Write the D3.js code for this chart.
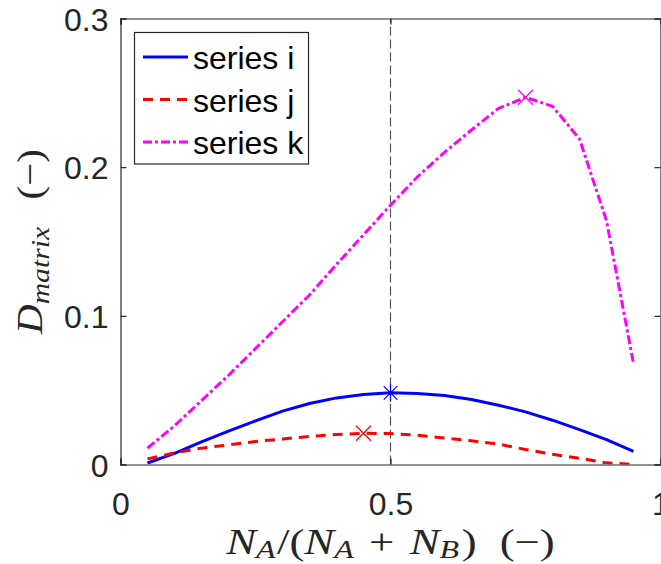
<!DOCTYPE html>
<html><head><meta charset="utf-8">
<script src="https://cdn.jsdelivr.net/npm/d3@7"></script>
<style>
html,body{margin:0;padding:0;background:#fff;}
svg{display:block;}
</style>
</head><body>
<svg id="chart" width="661" height="564"></svg>
<script>
const xValues = [0.05,0.10,0.15,0.20,0.25,0.30,0.35,0.40,0.45,0.50,0.55,0.60,0.65,0.70,0.75,0.80,0.85,0.90,0.95];
const seriesI = [0.001,0.0075,0.0152,0.0224,0.0293,0.0359,0.0410,0.0448,0.0471,0.0482,0.0477,0.0464,0.0437,0.0399,0.0354,0.0298,0.0235,0.0168,0.0089];
const seriesJ = [0.0038,0.0078,0.0110,0.0132,0.0155,0.0172,0.0188,0.0202,0.0210,0.0208,0.0197,0.0179,0.0159,0.0137,0.0101,0.0069,0.0042,0.0011,0.0001];
const seriesK = [0.011,0.026,0.043,0.060,0.078,0.096,0.114,0.1345,0.1545,0.1744,0.1935,0.2100,0.2250,0.2395,0.2470,0.2410,0.2190,0.1640,0.0680];
const seriesNames = ["series i","series j","series k"];
const peakI = {x:0.50, y:0.0482};
const peakJ = {x:0.45, y:0.0210};
const peakK = {x:0.75, y:0.2470};
const refLineX = 0.5;
const xTicks = [0,0.5,1];
const yTicks = [0,0.1,0.2,0.3];
const xTickLabels = ["0","0.5","1"];
const yTickLabels = ["0","0.1","0.2","0.3"];

const svg = d3.select("#chart");
const L = 120.5, R = 660.5, T = 18.5, B = 464.5;
const x = d3.scaleLinear().domain([0,1]).range([L,R]);
const y = d3.scaleLinear().domain([0,0.3]).range([B,T]);
const axisColor = "#262626";
const tickFont = "'Liberation Sans', Arial, Helvetica, sans-serif";
const mathFont = "'Liberation Serif', 'Times New Roman', serif";

// data lines
svg.append("defs").append("clipPath").attr("id","clip")
  .append("rect").attr("x",L).attr("y",T).attr("width",R-L).attr("height",B-T);
const plot = svg.append("g").attr("clip-path","url(#clip)");

plot.append("line").attr("x1",x(refLineX)).attr("x2",x(refLineX)).attr("y1",y(0)).attr("y2",y(0.3))
  .attr("stroke","#555").attr("stroke-width",1.2).attr("stroke-dasharray","9,4");

const line = d3.line().x(d=>x(d[0])).y(d=>y(d[1]));
const series = [
  {vals:seriesI, color:"#0000ff", dash:null},
  {vals:seriesJ, color:"#ff0000", dash:"10,7"},
  {vals:seriesK, color:"#ff00ff", dash:"9,3,3,3"}
];
series.forEach(s=>{
  plot.append("path").datum(xValues.map((v,i)=>[v,s.vals[i]]))
    .attr("d",line).attr("fill","none").attr("stroke",s.color)
    .attr("stroke-width",3).attr("stroke-dasharray",s.dash);
});

function xMarker(g, cx, cy, r, color){
  g.append("path").attr("d",`M${cx-r},${cy-r}L${cx+r},${cy+r}M${cx-r},${cy+r}L${cx+r},${cy-r}`)
   .attr("stroke",color).attr("stroke-width",1.2).attr("fill","none");
}
function starMarker(g, cx, cy, r, color){
  const d = r*0.75;
  g.append("path").attr("d",`M${cx-d},${cy-d}L${cx+d},${cy+d}M${cx-d},${cy+d}L${cx+d},${cy-d}M${cx},${cy-r}L${cx},${cy+r}M${cx-r},${cy}L${cx+r},${cy}`)
   .attr("stroke",color).attr("stroke-width",1.2).attr("fill","none");
}
starMarker(svg, x(peakI.x), y(peakI.y), 9, "#0000ff");
xMarker(svg, x(peakJ.x), y(peakJ.y), 7.5, "#ff0000");
xMarker(svg, x(peakK.x), y(peakK.y), 7.5, "#ff00ff");

// axes
const ax = svg.append("g").attr("font-family",tickFont);
const xAxis = d3.axisBottom(x).tickValues(xTicks).tickFormat((d,i)=>xTickLabels[i]).tickSize(-6).tickPadding(28);
const yAxis = d3.axisLeft(y).tickValues(yTicks).tickFormat((d,i)=>yTickLabels[i]).tickSize(-6).tickPadding(12);
const gx = ax.append("g").attr("transform",`translate(0,${B})`).call(xAxis);
const gy = ax.append("g").attr("transform",`translate(${L},0)`).call(yAxis);
const gx2 = ax.append("g").attr("transform",`translate(0,${T})`).call(d3.axisTop(x).tickValues(xTicks).tickSize(-6).tickFormat(""));
const gy2 = ax.append("g").attr("transform",`translate(${R},0)`).call(d3.axisRight(y).tickValues(yTicks).tickSize(-6).tickFormat(""));
[gx,gy,gx2,gy2].forEach(g=>{
  g.select(".domain").attr("stroke",axisColor).attr("stroke-width",1.2);
  g.selectAll(".tick line").attr("stroke",axisColor).attr("stroke-width",1.2);
  g.selectAll(".tick text").attr("fill","#262626").attr("font-size",32).attr("font-family",tickFont);
});
gy.selectAll(".tick text").attr("dy","0.36em");

// legend
const lg = svg.append("g");
lg.append("rect").attr("x",134.5).attr("y",32.5).attr("width",174).attr("height",131.5)
  .attr("fill","#fff").attr("stroke",axisColor).attr("stroke-width",1.2);
const legendY = [57, 99.5, 142];
series.forEach((s,i)=>{
  lg.append("line").attr("x1",143).attr("x2",188).attr("y1",legendY[i]).attr("y2",legendY[i])
    .attr("stroke",s.color).attr("stroke-width",3).attr("stroke-dasharray",s.dash);
  lg.append("text").attr("x",193).attr("y",legendY[i]+12).text(seriesNames[i])
    .attr("font-family",tickFont).attr("font-size",32).attr("fill","#000");
});

function parts(t, arr){
  arr.forEach(p=>{
    const ts = t.append("tspan").text(p.t);
    if(p.i) ts.attr("font-style","italic");
    if(p.s) ts.attr("font-size",p.s);
    if(p.dy) ts.attr("dy",p.dy);
    if(p.dx) ts.attr("dx",p.dx);
  });
}

// x label
const xl = svg.append("text").attr("transform",`translate(${(L+R)/2},554) scale(1.28,1)`).attr("text-anchor","middle")
  .attr("font-family",mathFont).attr("font-size",35).attr("fill","#262626");
parts(xl,[
  {t:"N",i:1},{t:"A",i:1,s:25,dy:4},{t:"/(",dy:-4,dx:1},{t:"N",i:1},{t:"A",i:1,s:25,dy:4},
  {t:"+",dy:-4,dx:12},{t:"N",i:1,dx:12},{t:"B",i:1,s:25,dy:4},{t:")",dy:-4,dx:2},{t:"(−)",dx:18}
]);

// y label
const yl = svg.append("text").attr("transform",`translate(42,${(T+B)/2}) rotate(-90) scale(1.14,1)`).attr("text-anchor","middle")
  .attr("font-family",mathFont).attr("font-size",36).attr("fill","#262626");
parts(yl,[
  {t:"D",i:1},{t:"matrix",i:1,s:26,dy:7},{t:"(−)",dy:-7,dx:24}
]);
</script>
</body></html>
